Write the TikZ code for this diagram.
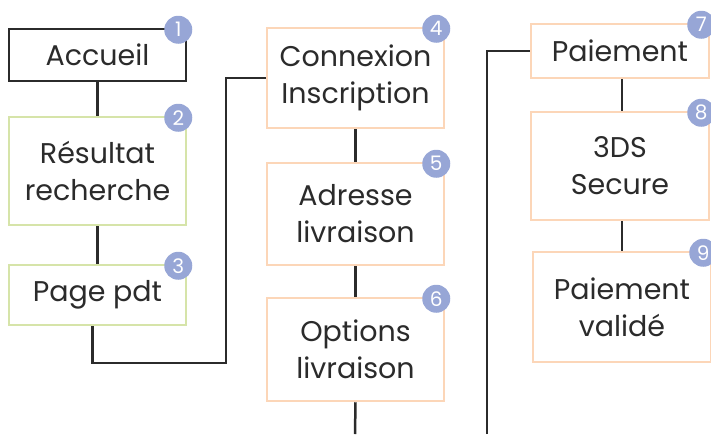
\documentclass[tikz,border=0pt]{standalone}
\usepackage{fontspec}
\setmainfont{Poppins}
\usetikzlibrary{calc}
\definecolor{pagegreen}{HTML}{D6E4A9}
\definecolor{pagepeach}{HTML}{FCD6B8}
\definecolor{badgeblue}{HTML}{97A6D6}
\definecolor{inkgray}{HTML}{2B2B2B}
\tikzstyle{page}=[rectangle, draw=inkgray, line width=2.5pt, fill=white, minimum width=177pt, inner sep=0pt, align=center, text=inkgray, font=\fontsize{28.5}{37}\selectfont, anchor=center]
\tikzstyle{badge}=[circle, fill=badgeblue, minimum size=28pt, inner sep=0pt, text=white, font=\fontsize{20}{20}\selectfont]
\tikzstyle{link}=[draw=inkgray, line width=2.5pt]
\newcommand{\badge}[2]
{
  \node[badge] (b#2) at ([shift={(-9pt,-2pt)}]#1.north east) {#2};
}

\begin{document}
\begin{tikzpicture}[x=1pt,y=-1pt]
	\useasboundingbox (0,0) rectangle (711,434);

	% first column
	\node[page, minimum height=52pt](p1) at (97.5,55){Accueil};
	\node[page, draw=pagegreen, minimum height=108pt](p2) at (97.5,171){Résultat\\recherche};
	\node[page, draw=pagegreen, minimum height=60pt](p3) at (97.5,295){Page pdt};

	% second column
	\node[page, draw=pagepeach, minimum height=100pt](p4) at (355.5,78){Connexion\\Inscription};
	\node[page, draw=pagepeach, minimum height=102pt](p5) at (355.5,214){Adresse\\livraison};
	\node[page, draw=pagepeach, minimum height=103pt](p6) at (355.5,349.5){Options\\livraison};

	% third column
	\node[page, draw=pagepeach, minimum width=178pt, minimum height=54pt](p7) at (620,51){Paiement};
	\node[page, draw=pagepeach, minimum width=178pt, minimum height=108pt](p8) at (620,166){3DS\\Secure};
	\node[page, draw=pagepeach, minimum width=178pt, minimum height=110pt](p9) at (622,307){Paiement\\validé};

	\coordinate (turn1) at (226,363);
	\coordinate (out6) at (355,434);
	\coordinate (in7) at (487,434);

	\begin{scope}[on background layer/.try]
	\draw[link] (p1.south) -- (p2.north);
	\draw[link] (p2.south) -- (p3.north);
	\draw[link] ([xshift=-5pt]p3.south) |- (turn1) |- (p4.west);
	\draw[link] (p4.south) -- (p5.north);
	\draw[link] (p5.south) -- (p6.north);
	\draw[link] (p6.south) -- (out6);
	\draw[link] (in7) |- (p7.west);
	\draw[link] ([xshift=2pt]p7.south) -- ([xshift=2pt]p8.north);
	\draw[link] (p8.south -| p9.north) -- (p9.north);
	\end{scope}

	\badge{p1}{1}
	\badge{p2}{2}
	\badge{p3}{3}
	\badge{p4}{4}
	\badge{p5}{5}
	\badge{p6}{6}
	\badge{p7}{7}
	\badge{p8}{8}
	\badge{p9}{9}

\end{tikzpicture}
\end{document}
